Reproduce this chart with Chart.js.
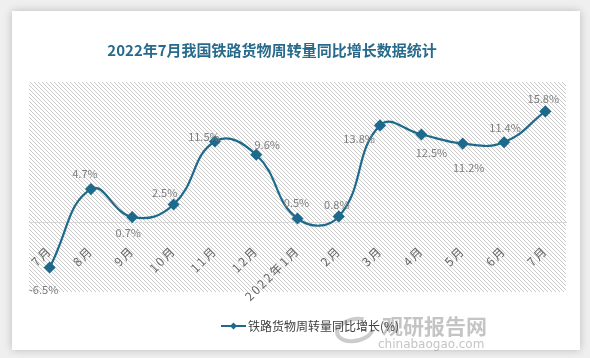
<!DOCTYPE html>
<html>
<head>
<meta charset="utf-8">
<script src="https://cdn.jsdelivr.net/npm/chart.js@4.4.0/dist/chart.umd.min.js"></script>
<style>
    html, body { margin: 0; padding: 0; }
    body { width: 590px; height: 358px; background: #efefef; position: relative; overflow: hidden; }
    .card { position: absolute; left: 12px; top: 11px; width: 568px; height: 339px; background: #fff; box-shadow: 0 0 8px rgba(0,0,0,0.22); }
    #grafico { position: absolute; left: 0; top: 0; }
</style>
</head>
<body>
<div class="card"></div>
<canvas id="grafico" width="590" height="358"></canvas>
<script>
// datos
const titulo = "2022年7月我国铁路货物周转量同比增长数据统计";
const serieNombre = "铁路货物周转量同比增长(%)";
const meses = ["7月", "8月", "9月", "10月", "11月", "12月", "2022年1月", "2月", "3月", "4月", "5月", "6月", "7月"];
const valores = [-6.5, 4.7, 0.7, 2.5, 11.5, 9.6, 0.5, 0.8, 13.8, 12.5, 11.2, 11.4, 15.8];

const colorLinea = "#1d6a8d";
const fuente = '"Noto Sans CJK SC", "Noto Sans", sans-serif';

// desplazamiento de las etiquetas de cada punto (dx, dy)
const etiquetaOffset = [
    [-6, 22], [-6, -15], [-4, 16], [-9, -12], [-11, -5], [11, -10], [-1, -16],
    [-2, -12], [-21, 13], [10, 18], [6, 24], [1, -14], [-2, -13]
];

// fondo rayado del area del grafico
function crearRayado() {
    const c = document.createElement("canvas");
    c.width = 4; c.height = 4;
    const g = c.getContext("2d");
    g.strokeStyle = "#c9c9c9";
    g.lineWidth = 1;
    g.beginPath();
    g.moveTo(-1, -1); g.lineTo(5, 5);
    g.moveTo(-1, 3); g.lineTo(1, 5);
    g.moveTo(3, -1); g.lineTo(5, 1);
    g.stroke();
    return g.createPattern(c, "repeat");
}

const decoracion = {
    id: "decoracion",
    beforeDraw(chart) {
        const ctx = chart.ctx;
        const a = chart.chartArea;
        ctx.save();
        ctx.fillStyle = crearRayado();
        ctx.fillRect(a.left, a.top, a.right - a.left, a.bottom - a.top);

        // marca de agua
        ctx.globalAlpha = 0.5;
        ctx.strokeStyle = "#9a9a9a";
        ctx.lineWidth = 4;
        ctx.beginPath();
        ctx.ellipse(355, 330, 18, 11, -0.2, 0.3, Math.PI * 1.7);
        ctx.stroke();
        ctx.fillStyle = "#8a8a8a";
        ctx.font = 'bold 21px ' + fuente;
        ctx.textAlign = "left";
        ctx.textBaseline = "middle";
        ctx.fillText("观研报告网", 382, 326);
        ctx.font = '12px "DejaVu Sans", sans-serif';
        ctx.fillText("chinabaogao.com", 378, 345);
        ctx.restore();
        // etiquetas del eje x con espaciado
        ctx.letterSpacing = "2px";
    },
    beforeDatasetsDraw(chart) {
        chart.ctx.letterSpacing = "0px";
    },
    afterDraw(chart) {
        const ctx = chart.ctx;
        ctx.save();
        ctx.letterSpacing = "0px";
        // titulo
        ctx.fillStyle = "#286a8c";
        ctx.font = 'bold 15px ' + fuente;
        ctx.textAlign = "center";
        ctx.textBaseline = "middle";
        ctx.fillText(titulo, 272, 50);

        // leyenda
        const y = 326;
        ctx.strokeStyle = colorLinea;
        ctx.lineWidth = 2;
        ctx.beginPath();
        ctx.moveTo(221, y); ctx.lineTo(246, y);
        ctx.stroke();
        ctx.fillStyle = colorLinea;
        ctx.beginPath();
        ctx.moveTo(233.5, y - 3.5); ctx.lineTo(237, y); ctx.lineTo(233.5, y + 3.5); ctx.lineTo(230, y);
        ctx.closePath();
        ctx.fill();
        ctx.fillStyle = "#404040";
        ctx.font = '12px ' + fuente;
        ctx.textAlign = "left";
        ctx.fillText(chart.data.datasets[0].label, 248, y);
        ctx.restore();
    },
    afterDatasetsDraw(chart) {
        const ctx = chart.ctx;
        const meta = chart.getDatasetMeta(0);
        ctx.save();
        ctx.letterSpacing = "0px";
        ctx.fillStyle = "#7f7f7f";
        ctx.font = '11px ' + fuente;
        ctx.textAlign = "center";
        ctx.textBaseline = "middle";
        meta.data.forEach((p, i) => {
            const o = etiquetaOffset[i];
            ctx.fillText(valores[i].toFixed(1) + "%", p.x + o[0], p.y + o[1]);
        });
        ctx.restore();
    }
};

document.addEventListener("DOMContentLoaded", () => {
    const ctx = document.getElementById("grafico").getContext("2d");
    new Chart(ctx, {
        type: "line",
        data: {
            labels: meses,
            datasets: [{
                label: serieNombre,
                data: valores,
                borderColor: colorLinea,
                backgroundColor: colorLinea,
                borderWidth: 2.2,
                tension: 0.45,
                pointStyle: "rectRot",
                pointRadius: 4.5,
                pointHoverRadius: 4.5
            }]
        },
        options: {
            responsive: false,
            animation: false,
            events: [],
            layout: { padding: { left: 29, right: 24, top: 82, bottom: 66 } },
            plugins: {
                legend: { display: false },
                title: { display: false },
                tooltip: { enabled: false }
            },
            scales: {
                x: {
                    position: { y: 0 },
                    offset: true,
                    grid: { display: false },
                    border: { display: true, color: "#d9d9d9", width: 1 },
                    ticks: {
                        color: "#666666",
                        font: { size: 12, family: fuente },
                        maxRotation: 45,
                        minRotation: 45,
                        padding: 13,
                        autoSkip: false
                    }
                },
                y: {
                    display: false,
                    min: -10,
                    max: 20
                }
            }
        },
        plugins: [decoracion]
    });
});
</script>
</body>
</html>
